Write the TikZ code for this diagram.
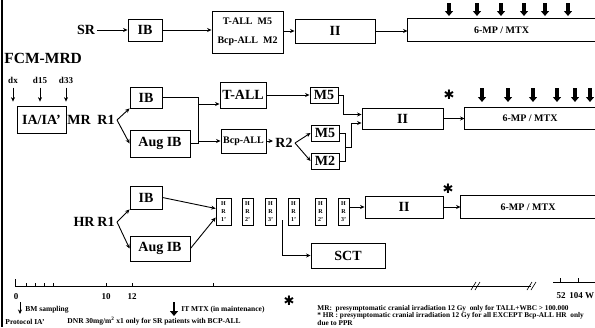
\documentclass[tikz,border=0pt]{standalone}
\usepackage{fontspec}
\setmainfont{Liberation Serif}
\newfontfamily\symfont{DejaVu Sans}
\usetikzlibrary{positioning, arrows.meta, calc}
\newcommand\bfz[1]{\fontsize{#1}{#1}\selectfont\bfseries}

\begin{document}
\begin{tikzpicture}[
    x=1pt, y=-1pt,
    >={Stealth[length=4.5pt,width=4pt]},
    line width=0.9pt,
    box/.style={draw, inner sep=0pt, font=\bfz{14}},
    txt/.style={inner sep=2pt, font=\bfz{14}},
    small/.style={inner sep=0pt, anchor=west, font=\bfz{7.5}},
    hrbox/.style={draw, line width=0.7pt, inner sep=0pt, minimum height=27pt, align=center, font=\fontsize{6}{8}\selectfont\bfseries},
    dose/.style={line width=3.4pt, -{Triangle[length=5pt,width=8pt]}},
    star/.style={inner sep=0pt, font=\symfont\fontsize{13}{13}\selectfont}
  ]
  \useasboundingbox (0,0) rectangle (595,327);
  \draw[line width=2.5pt] (2,0) -- (2,327);

  % SR
  \node[txt] (sr) at (86,30) {SR};
  \node[box, minimum width=34pt, minimum height=22pt] (sib) at (145,30) {IB};
  \node[box, minimum width=71pt, minimum height=42pt, align=center, font=\bfz{10}] (sral) at (247.5,32) {T-ALL\ \ M5\\[9pt]Bcp-ALL\ \ M2};
  \node[box, minimum width=80pt, minimum height=24pt] (sr2) at (335,31) {II};
  \node[inner sep=0pt, minimum width=187pt, minimum height=22pt, font=\bfz{10}] (srm) at (501.5,30) {6-MP / MTX};
  \draw (srm.north east) -- (srm.north west) -- (srm.south west) -- (srm.south east);
  \draw[->] (sr) -- (sib);
  \draw[->] (sib.east) -- (sib.east -| sral.west);
  \draw[->] (sral.east |- sr2.west) -- (sr2.west);
  \draw[->] (sr2.east) -- (sr2.east -| srm.west);
  \foreach \x in {449,477,501,524,545,568}
    \draw[dose] (\x,3) -- (\x,16);

  % MR
  \node[txt, anchor=west, inner sep=0pt, font=\bfz{15.5}] (fcm) at (4,58) {FCM-MRD};
  \node[txt, font=\bfz{9}] (dx) at (13,80) {dx};
  \node[txt, font=\bfz{9}] (d15) at (40,80) {d15};
  \node[txt, font=\bfz{9}] (d33) at (66,80) {d33};
  \foreach \d in {dx,d15,d33}
    \draw[->, line width=0.6pt] ([yshift=-2pt]\d.south) -- ([yshift=-16pt]\d.south);
  \node[box, minimum width=49pt, minimum height=27pt] (ia) at (41.5,119.5) {IA/IA'};
  \node[txt] (mr) at (79,120) {MR};
  \node[txt] (mr1) at (106,120) {R1};
  \node[box, minimum width=32pt, minimum height=21pt] (mib) at (146,97.5) {IB};
  \node[box, minimum width=60pt, minimum height=27pt] (maug) at (160,143.5) {Aug IB};
  \node[box, minimum width=46pt, minimum height=26pt] (mtall) at (243,95) {T-ALL};
  \node[box, minimum width=45pt, minimum height=24pt, font=\bfz{10}] (mbcp) at (243.5,141) {Bcp-ALL};
  \node[txt] (mr2l) at (284,143) {R2};
  \node[box, minimum width=28pt, minimum height=16pt] (mm5a) at (324,95) {M5};
  \node[box, minimum width=28pt, minimum height=16pt] (mm5b) at (325,133) {M5};
  \node[box, minimum width=28pt, minimum height=16pt] (mm2) at (325,161) {M2};
  \node[box, minimum width=81pt, minimum height=21pt] (mr2) at (402.5,118.5) {II};
  \node[inner sep=0pt, minimum width=130pt, minimum height=21pt, font=\bfz{10}] (mrm) at (530,118.5) {6-MP / MTX};
  \draw (mrm.north east) -- (mrm.north west) -- (mrm.south west) -- (mrm.south east);
  \draw[->] (mr1.east) -- (mib.south west);
  \draw[->] (mr1.east) -- (maug.west);
  \coordinate (mj) at (198,120);
  \coordinate (mta) at ($(mtall.west)+(0,9)$);
  \draw (mib.east) -| (mj |- maug.east) -- (maug.east);
  \draw[->] (mj |- mta) -- (mta);
  \draw[->] (mj |- mbcp.west) -- (mbcp.west);
  \draw[->] (mbcp.east) -- (mbcp.east -| mr2l.west);
  \draw[->] (mr2l.east) -- (mm5b.west);
  \draw[->] (mr2l.east) -- (mm2.west);
  \draw[->] (mtall.east) -- (mm5a.west);
  \coordinate (mk) at (343,0);
  \coordinate (mia) at ($(mr2.west)+(0,-4)$);
  \coordinate (mib2) at ($(mr2.west)+(0,4.5)$);
  \draw[->] (mm5a.east) -| (mk |- mia) -- (mia);
  \coordinate (mk2) at (345,0);
  \coordinate (mmid) at ($(mm5b.east)!.5!(mm2.east)$);
  \draw (mm5b.east) -| (mk2 |- mm2.east) -- (mm2.east);
  \draw[->] (mk2 |- mmid) -- ++(6,0) |- (mib2);
  \draw[->] (mr2.east) -- (mrm.west);
  \node[star] (mstar) at (449,95) {✱};
  \foreach \x in {482,508,533,557,575,590}
    \draw[dose] (\x,88) -- (\x,102);

  % HR
  \node[txt] (hr) at (84,222) {HR};
  \node[txt] (hr1) at (106,222) {R1};
  \node[box, minimum width=32pt, minimum height=23pt] (hib) at (146,197.5) {IB};
  \node[box, minimum width=60pt, minimum height=25pt] (haug) at (160,248.5) {Aug IB};
  \foreach \n/\x/\w/\t in {1/223.5/15/1',2/247.5/11/2',3/270.5/11/3',4/293.5/11/1',5/320.5/11/2',6/343.5/11/3'}
    \node[hrbox, minimum width=\w pt] (hb\n) at (\x,211.5) {H\\R\\\t};
  \node[box, minimum width=78pt, minimum height=22pt] (hr2) at (404,207) {II};
  \node[inner sep=0pt, minimum width=134pt, minimum height=22pt, font=\bfz{10}] (hrm) at (528,207) {6-MP / MTX};
  \draw (hrm.north east) -- (hrm.north west) -- (hrm.south west) -- (hrm.south east);
  \node[box, minimum width=74pt, minimum height=25pt] (sct) at (348,255.5) {SCT};
  \draw[->] (hr1.east) -- (hib.south west);
  \draw[->] (hr1.east) -- (haug.west);
  \draw[->] (hib.east) -- ($(hb1.west)+(0,-3)$);
  \draw[->] (haug.east) -- ($(hb1.west)+(0,6)$);
  \draw[->] (hb6.east |- hr2.west) -- (hr2.west);
  \draw[->] (hr2.east) -- (hrm.west);
  \coordinate (hs) at ($(hb3.south east)!.5!(hb4.south west)+(0,-5)$);
  \draw[->] (hs) |- (sct.west);
  \node[star] (hstar) at (448,189) {✱};

  % time axis
  \coordinate (t0) at (15,286);
  \coordinate (tb) at (475,286);
  \coordinate (te) at (531,286);
  \draw[line width=0.7pt] (t0) -- (te);
  \foreach \b in {tb,te}
    \draw[line width=0.6pt] ($(\b)+(-4,4)$) -- ++(5,-8) ($(\b)+(0,4)$) -- ++(5,-8);
  \draw[line width=0.7pt] (t0) -- ++(0,-7);
  \foreach \x in {26,35,44,53,106,132,213}
    \draw[line width=0.6pt] (\x,286) -- (\x,283);
  \node[txt, font=\bfz{9}] (l0) at (16,297) {0};
  \node[txt, font=\bfz{9}] (l10) at (106,297) {10};
  \node[txt, font=\bfz{9}] (l12) at (132,297) {12};
  \coordinate (r0) at (553,282);
  \coordinate (r1) at (595,282);
  \draw[line width=0.7pt] (r0) -- (r1);
  \foreach \x in {560,578}
    \draw[line width=0.6pt] (\x,282) -- (\x,278);
  \node[txt, font=\bfz{9}] (l52) at (561,296) {52};
  \node[txt, anchor=west, inner sep=0pt, font=\bfz{9}] (l104) at (569,296) {104 W};

  % legend
  \draw[->, line width=0.6pt] (20,302) -- (20,314);
  \node[small] (bm) at (25,310) {BM sampling};
  \draw[dose, line width=2.8pt] (174,302) -- (174,316);
  \node[small] (itm) at (181,310) {IT MTX (in maintenance)};
  \node[star] (lstar) at (289,301) {✱};
  \node[small] (pia) at (5,321.5) {Protocol IA'};
  \node[small] (dnr) at (67,321.5) {DNR 30mg/m\textsuperscript{2} x1 only for SR patients with BCP-ALL};
  \node[inner sep=0pt, anchor=south west, align=left, font=\fontsize{7.3}{6.4}\selectfont\bfseries] (notes) at (317,326)
    {MR:\ \ presymptomatic cranial irradiation 12 Gy\ \ only for TALL+WBC > 100.000\\
     * HR : presymptomatic cranial irradiation 12 Gy for all EXCEPT Bcp-ALL HR\ \ only\\
     due to PPR};
\end{tikzpicture}
\end{document}
